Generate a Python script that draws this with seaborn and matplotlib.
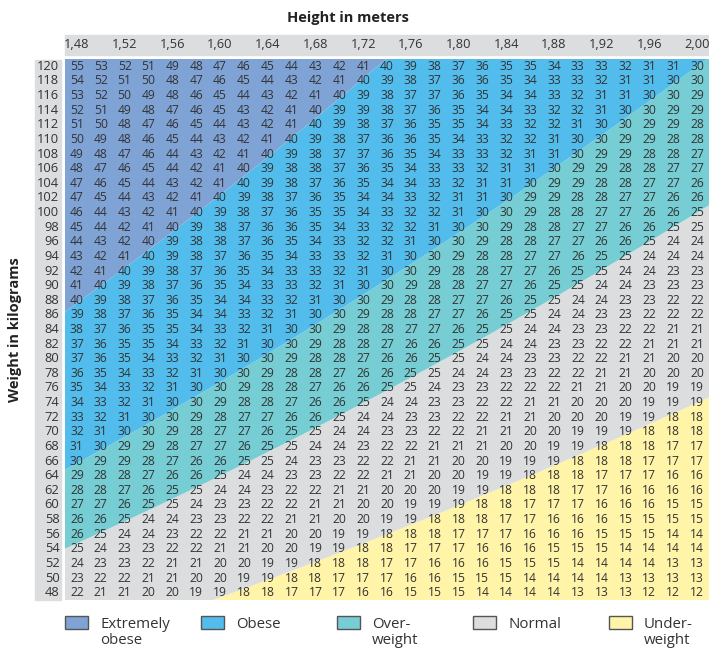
import matplotlib
matplotlib.use("Agg")
import matplotlib.pyplot as plt
from matplotlib.colors import ListedColormap
from matplotlib.patches import Rectangle
import numpy as np
import pandas as pd
import seaborn as sns

# column / row headers
heights = [1.48, 1.50, 1.52, 1.54, 1.56, 1.58, 1.60, 1.62, 1.64, 1.66, 1.68, 1.70, 1.72, 1.74,
           1.76, 1.78, 1.80, 1.82, 1.84, 1.86, 1.88, 1.90, 1.92, 1.94, 1.96, 1.98, 2.00]
weights = [120, 118, 116, 114, 112, 110, 108, 106, 104, 102, 100, 98, 96, 94, 92, 90, 88, 86, 84,
           82, 80, 78, 76, 74, 72, 70, 68, 66, 64, 62, 60, 58, 56, 54, 52, 50, 48]

# table values, one row per weight
bmi_values = [
    [55, 53, 52, 51, 49, 48, 47, 46, 45, 44, 43, 42, 41, 40, 39, 38, 37, 36, 35, 35, 34, 33, 33, 32, 31, 31, 30],
    [54, 52, 51, 50, 48, 47, 46, 45, 44, 43, 42, 41, 40, 39, 38, 37, 36, 36, 35, 34, 33, 33, 32, 31, 31, 30, 30],
    [53, 52, 50, 49, 48, 46, 45, 44, 43, 42, 41, 40, 39, 38, 37, 37, 36, 35, 34, 34, 33, 32, 31, 31, 30, 30, 29],
    [52, 51, 49, 48, 47, 46, 45, 43, 42, 41, 40, 39, 39, 38, 37, 36, 35, 34, 34, 33, 32, 32, 31, 30, 30, 29, 29],
    [51, 50, 48, 47, 46, 45, 44, 43, 42, 41, 40, 39, 38, 37, 36, 35, 35, 34, 33, 32, 32, 31, 30, 30, 29, 29, 28],
    [50, 49, 48, 46, 45, 44, 43, 42, 41, 40, 39, 38, 37, 36, 36, 35, 34, 33, 32, 32, 31, 30, 30, 29, 29, 28, 28],
    [49, 48, 47, 46, 44, 43, 42, 41, 40, 39, 38, 37, 37, 36, 35, 34, 33, 33, 32, 31, 31, 30, 29, 29, 28, 28, 27],
    [48, 47, 46, 45, 44, 42, 41, 40, 39, 38, 38, 37, 36, 35, 34, 33, 33, 32, 31, 31, 30, 29, 29, 28, 28, 27, 27],
    [47, 46, 45, 44, 43, 42, 41, 40, 39, 38, 37, 36, 35, 34, 34, 33, 32, 31, 31, 30, 29, 29, 28, 28, 27, 27, 26],
    [47, 45, 44, 43, 42, 41, 40, 39, 38, 37, 36, 35, 34, 34, 33, 32, 31, 31, 30, 29, 29, 28, 28, 27, 27, 26, 26],
    [46, 44, 43, 42, 41, 40, 39, 38, 37, 36, 35, 35, 34, 33, 32, 32, 31, 30, 30, 29, 28, 28, 27, 27, 26, 26, 25],
    [45, 44, 42, 41, 40, 39, 38, 37, 36, 36, 35, 34, 33, 32, 32, 31, 30, 30, 29, 28, 28, 27, 27, 26, 26, 25, 25],
    [44, 43, 42, 40, 39, 38, 38, 37, 36, 35, 34, 33, 32, 32, 31, 30, 30, 29, 28, 28, 27, 27, 26, 26, 25, 24, 24],
    [43, 42, 41, 40, 39, 38, 37, 36, 35, 34, 33, 33, 32, 31, 30, 30, 29, 28, 28, 27, 27, 26, 25, 25, 24, 24, 24],
    [42, 41, 40, 39, 38, 37, 36, 35, 34, 33, 33, 32, 31, 30, 30, 29, 28, 28, 27, 27, 26, 25, 25, 24, 24, 23, 23],
    [41, 40, 39, 38, 37, 36, 35, 34, 33, 33, 32, 31, 30, 30, 29, 28, 28, 27, 27, 26, 25, 25, 24, 24, 23, 23, 23],
    [40, 39, 38, 37, 36, 35, 34, 34, 33, 32, 31, 30, 30, 29, 28, 28, 27, 27, 26, 25, 25, 24, 24, 23, 23, 22, 22],
    [39, 38, 37, 36, 35, 34, 34, 33, 32, 31, 30, 30, 29, 28, 28, 27, 27, 26, 25, 25, 24, 24, 23, 23, 22, 22, 22],
    [38, 37, 36, 35, 35, 34, 33, 32, 31, 30, 30, 29, 28, 28, 27, 27, 26, 25, 25, 24, 24, 23, 23, 22, 22, 21, 21],
    [37, 36, 35, 35, 34, 33, 32, 31, 30, 30, 29, 28, 28, 27, 26, 26, 25, 25, 24, 24, 23, 23, 22, 22, 21, 21, 21],
    [37, 36, 35, 34, 33, 32, 31, 30, 30, 29, 28, 28, 27, 26, 26, 25, 25, 24, 24, 23, 23, 22, 22, 21, 21, 20, 20],
    [36, 35, 34, 33, 32, 31, 30, 30, 29, 28, 28, 27, 26, 26, 25, 25, 24, 24, 23, 23, 22, 22, 21, 21, 20, 20, 20],
    [35, 34, 33, 32, 31, 30, 30, 29, 28, 28, 27, 26, 26, 25, 25, 24, 23, 23, 22, 22, 22, 21, 21, 20, 20, 19, 19],
    [34, 33, 32, 31, 30, 30, 29, 28, 28, 27, 26, 26, 25, 24, 24, 23, 23, 22, 22, 21, 21, 20, 20, 20, 19, 19, 19],
    [33, 32, 31, 30, 30, 29, 28, 27, 27, 26, 26, 25, 24, 24, 23, 23, 22, 22, 21, 21, 20, 20, 20, 19, 19, 18, 18],
    [32, 31, 30, 30, 29, 28, 27, 27, 26, 25, 25, 24, 24, 23, 23, 22, 22, 21, 21, 20, 20, 19, 19, 19, 18, 18, 18],
    [31, 30, 29, 29, 28, 27, 27, 26, 25, 25, 24, 24, 23, 22, 22, 21, 21, 21, 20, 20, 19, 19, 18, 18, 18, 17, 17],
    [30, 29, 29, 28, 27, 26, 26, 25, 25, 24, 23, 23, 22, 22, 21, 21, 20, 20, 19, 19, 19, 18, 18, 18, 17, 17, 17],
    [29, 28, 28, 27, 26, 26, 25, 24, 24, 23, 23, 22, 22, 21, 21, 20, 20, 19, 19, 18, 18, 18, 17, 17, 17, 16, 16],
    [28, 28, 27, 26, 25, 25, 24, 24, 23, 22, 22, 21, 21, 20, 20, 20, 19, 19, 18, 18, 18, 17, 17, 16, 16, 16, 16],
    [27, 27, 26, 25, 25, 24, 23, 23, 22, 22, 21, 21, 20, 20, 19, 19, 19, 18, 18, 17, 17, 17, 16, 16, 16, 15, 15],
    [26, 26, 25, 24, 24, 23, 23, 22, 22, 21, 21, 20, 20, 19, 19, 18, 18, 18, 17, 17, 16, 16, 16, 15, 15, 15, 15],
    [26, 25, 24, 24, 23, 22, 22, 21, 21, 20, 20, 19, 19, 18, 18, 18, 17, 17, 17, 16, 16, 16, 15, 15, 15, 14, 14],
    [25, 24, 23, 23, 22, 22, 21, 21, 20, 20, 19, 19, 18, 18, 17, 17, 17, 16, 16, 16, 15, 15, 15, 14, 14, 14, 14],
    [24, 23, 23, 22, 21, 21, 20, 20, 19, 19, 18, 18, 18, 17, 17, 16, 16, 16, 15, 15, 15, 14, 14, 14, 14, 13, 13],
    [23, 22, 22, 21, 21, 20, 20, 19, 19, 18, 18, 17, 17, 17, 16, 16, 15, 15, 15, 14, 14, 14, 14, 13, 13, 13, 13],
    [22, 21, 21, 20, 20, 19, 19, 18, 18, 17, 17, 17, 16, 16, 15, 15, 15, 14, 14, 14, 14, 13, 13, 13, 12, 12, 12],
]

# BMI classes, lowest first
class_names = ["Under-\nweight", "Normal", "Over-\nweight", "Obese", "Extremely\nobese"]
class_limits = [0, 18.5, 25, 30, 40, 100]
class_colors = ["#fff4a8", "#dcdddf", "#76cdd3", "#52bdec", "#80a3d6"]

TEXT = "#333333"
STRIP = "#dcdddf"
W, H = 709, 648

sns.set_theme(style="white")
plt.rcParams["font.family"] = ["Open Sans", "DejaVu Sans"]

fig = plt.figure(figsize=(W / 100, H / 100), dpi=100)


def fx(x):
    return x / W


def fy(y):
    return 1 - y / H


# table area
ax = fig.add_axes([fx(65), fy(600), fx(709) - fx(65), fy(59) - fy(600)])

col_labels = [f"{h:.2f}".replace(".", ",") for h in heights]
table = pd.DataFrame(bmi_values, index=weights, columns=col_labels)

sns.heatmap(
    table,
    annot=True,
    fmt="d",
    cmap=ListedColormap([(0, 0, 0, 0)]),
    cbar=False,
    ax=ax,
    xticklabels=2,
    yticklabels=1,
    annot_kws={"color": TEXT, "fontsize": 8.7},
)

# class bands behind the numbers
gx = np.linspace(0, len(heights), 400)
gy = np.linspace(0, len(weights), 400)
gh = heights[0] + (gx - 0.5) * (heights[1] - heights[0])
gw = weights[0] + (gy - 0.5) * (weights[1] - weights[0])
field = gw[:, None] / gh[None, :] ** 2
ax.contourf(gx, gy, field, levels=class_limits, colors=class_colors, zorder=0.5, antialiased=True)
ax.set_xlim(0, len(heights))
ax.set_ylim(len(weights), 0)

ax.set_xlabel("")
ax.set_ylabel("")
ax.xaxis.tick_top()
ax.tick_params(axis="x", length=0, pad=6, labelsize=9.3, labelcolor=TEXT, rotation=0)
ax.tick_params(axis="y", length=0, pad=4, labelsize=9.3, labelcolor=TEXT, rotation=0)

# grey header strips
fig.add_artist(Rectangle((fx(65), fy(55)), fx(709) - fx(65), fy(35) - fy(55),
                         transform=fig.transFigure, color=STRIP, zorder=-1))
fig.add_artist(Rectangle((fx(35), fy(600)), fx(61) - fx(35), fy(60) - fy(600),
                         transform=fig.transFigure, color=STRIP, zorder=-1))

fig.text(fx(348), fy(18), "Height in meters", ha="center", va="center",
         fontsize=10.5, fontweight="bold", color="#222222")
fig.text(fx(15), fy(330), "Weight in kilograms", ha="center", va="center",
         rotation=90, fontsize=10.5, fontweight="bold", color="#222222")

# legend
for i, (name, color) in enumerate(zip(class_names[::-1], class_colors[::-1])):
    x0 = 65 + 136 * i
    fig.add_artist(Rectangle((fx(x0), fy(629)), fx(23), fy(616) - fy(629),
                             transform=fig.transFigure, facecolor=color,
                             edgecolor="#555555", linewidth=1))
    fig.text(fx(x0 + 35), fy(617), name, ha="left", va="top",
             fontsize=10.8, color=TEXT, linespacing=1.05)

fig.savefig("out.png", dpi=100)
